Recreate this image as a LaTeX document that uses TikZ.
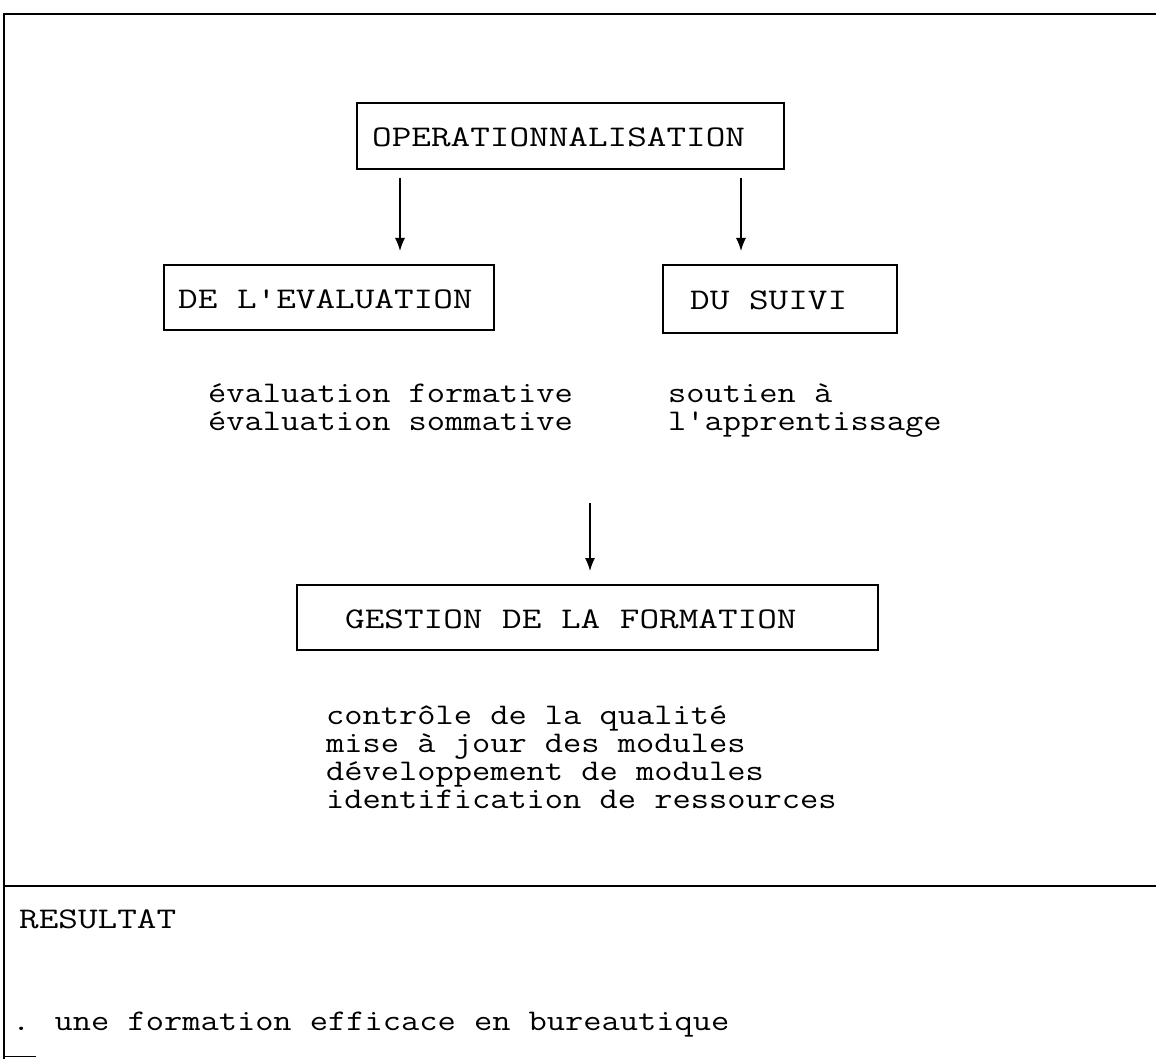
\documentclass[tikz,border=0pt]{standalone}
\usepackage{graphicx}
\usetikzlibrary{arrows.meta}
% typewriter text, widened to a Courier-like pitch
\newcommand{\capstw}[1]{\scalebox{1.27}[1]{#1}}
\newcommand{\lowtw}[1]{\scalebox{1.18}[1]{#1}}
\tikzset{
  frameline/.style={line width=1.6pt},
  labelbox/.style={draw, line width=1.3pt},
  txt/.style={anchor=base west, inner sep=0pt,
    font=\fontsize{30}{30}\selectfont\ttfamily},
  flow/.style={line width=1.3pt, -{Latex[length=13pt,width=10pt]}},
}
\begin{document}
\begin{tikzpicture}[x=1pt,y=-1pt]
\useasboundingbox (0,0) rectangle (1156,1059);
% outer frame, open on the right
\draw[frameline] (1156,14) -- (4,14) -- (4,1059);
\draw[frameline] (4,886) -- (1156,886);
\draw[line width=1pt] (4,1056) -- (36,1056);

% boxed headings
\draw[labelbox] (357,103) rectangle (784,169);
\node[txt] (operT) at (372,147) {\capstw{OPERATIONNALISATION}};

\draw[labelbox] (164,265) rectangle (494,330);
\node[txt] (evalT) at (178,308) {\capstw{DE L'EVALUATION}};

\draw[labelbox] (663,265) rectangle (897,333);
\node[txt] (suiviT) at (690,309) {\capstw{DU SUIVI}};

\draw[labelbox] (297,585) rectangle (878,650);
\node[txt] (gestT) at (345,628) {\capstw{GESTION DE LA FORMATION}};

% arrows
\coordinate (a1s) at (400,178);
\coordinate (a1e) at (400,251);
\coordinate (a2s) at (741,178);
\coordinate (a2e) at (741,251);
\coordinate (a3s) at (590,503);
\coordinate (a3e) at (590,571);
\draw[flow] (a1s) -- (a1e);
\draw[flow] (a2s) -- (a2e);
\draw[flow] (a3s) -- (a3e);

% lists under the headings
\node[txt] (ev1) at (208,402) {\lowtw{évaluation formative}};
\node[txt] (ev2) at (208,430) {\lowtw{évaluation sommative}};
\node[txt] (su1) at (668,402) {\lowtw{soutien à}};
\node[txt] (su2) at (668,430) {\lowtw{l'apprentissage}};
\node[txt] (ge1) at (326,724) {\lowtw{contrôle de la qualité}};
\node[txt] (ge2) at (326,752) {\lowtw{mise à jour des modules}};
\node[txt] (ge3) at (326,780) {\lowtw{développement de modules}};
\node[txt] (ge4) at (326,808) {\lowtw{identification de ressources}};

% result
\node[txt] (res) at (19,928) {\capstw{RESULTAT}};
\node[txt] (resL) at (12,1030) {\lowtw{. une formation efficace en bureautique}};
\end{tikzpicture}
\end{document}
